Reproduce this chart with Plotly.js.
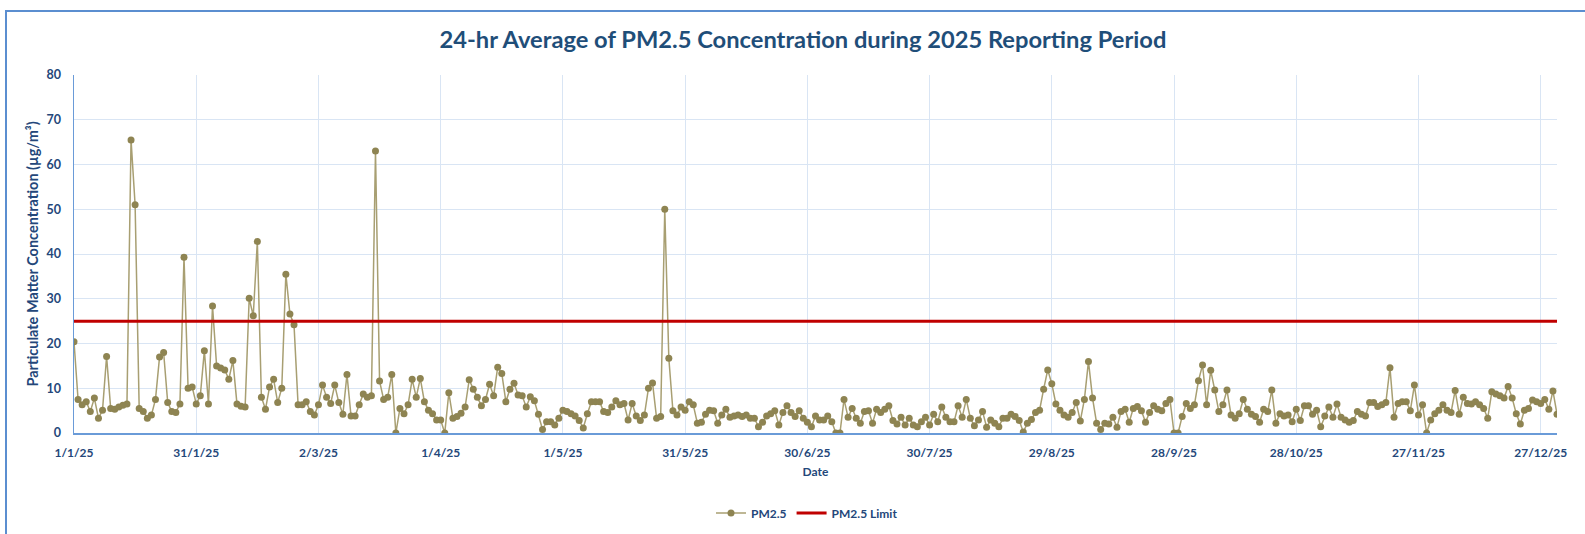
<!DOCTYPE html>
<html>
<head>
<meta charset="utf-8">
<script src="https://cdn.plot.ly/plotly-3.0.1.min.js"></script>
<style>
  html, body { margin: 0; padding: 0; background: #ffffff; width: 1585px; height: 534px; overflow: hidden; }
  #frame { position: absolute; left: 5px; top: 10px; width: 1620px; height: 600px; border-left: 2px solid #5B8ED0; border-top: 2px solid #5B8ED0; box-sizing: border-box; }
  #chart { position: absolute; left: 0; top: 0; width: 1585px; height: 534px; }
</style>
</head>
<body>
<div id="frame"></div>
<div id="chart"></div>
<script>
// ---- Data ----
const startDate = '2025-01-01';
const pm25Values = [
  20.4, 7.5, 6.3, 7.0, 4.8, 7.8, 3.3, 5.1, 17.1, 5.5,
  5.3, 5.8, 6.2, 6.5, 65.5, 51.0, 5.5, 4.8, 3.3, 4.0,
  7.5, 17.0, 18.0, 6.8, 4.8, 4.6, 6.5, 39.3, 10.0, 10.3,
  6.5, 8.3, 18.4, 6.5, 28.4, 15.0, 14.5, 14.1, 12.0, 16.2,
  6.5, 6.0, 5.8, 30.1, 26.2, 42.8, 8.0, 5.3, 10.3, 12.0,
  6.8, 10.0, 35.5, 26.6, 24.2, 6.3, 6.3, 7.0, 4.8, 4.0,
  6.3, 10.7, 8.0, 6.6, 10.7, 6.8, 4.2, 13.1, 3.8, 3.8,
  6.3, 8.7, 8.0, 8.3, 63.0, 11.6, 7.5, 8.0, 13.1, 0.0,
  5.5, 4.3, 6.3, 12.0, 8.0, 12.2, 7.0, 5.1, 4.3, 2.9,
  2.9, 0.0, 9.0, 3.3, 3.7, 4.4, 5.8, 11.9, 9.8, 8.0,
  6.1, 7.5, 10.9, 8.3, 14.7, 13.3, 7.0, 9.8, 11.1, 8.5,
  8.3, 5.8, 8.1, 7.2, 4.2, 0.8, 2.5, 2.5, 1.8, 3.3,
  5.1, 4.8, 4.3, 3.8, 2.8, 1.1, 4.3, 7.0, 7.0, 7.0,
  4.8, 4.6, 5.8, 7.2, 6.3, 6.6, 2.9, 6.6, 3.8, 2.8,
  4.0, 10.0, 11.2, 3.3, 3.7, 50.0, 16.7, 5.0, 4.0, 5.8,
  5.1, 7.0, 6.3, 2.2, 2.4, 4.2, 5.1, 5.0, 2.2, 4.0,
  5.3, 3.5, 3.8, 4.0, 3.7, 4.0, 3.3, 3.3, 1.4, 2.4,
  3.8, 4.3, 5.0, 1.8, 4.6, 6.1, 4.6, 3.7, 5.0, 3.3,
  2.4, 1.4, 3.8, 2.9, 2.9, 3.8, 2.5, 0.0, 0.0, 7.5,
  3.5, 5.5, 3.3, 2.2, 4.8, 5.0, 2.2, 5.3, 4.6, 5.3,
  6.1, 2.8, 2.0, 3.5, 1.8, 3.3, 1.8, 1.4, 2.5, 3.5,
  1.8, 4.2, 2.5, 5.8, 3.5, 2.5, 2.5, 6.1, 3.5, 7.5,
  3.3, 1.6, 2.9, 4.8, 1.3, 2.9, 2.2, 1.4, 3.3, 3.3,
  4.2, 3.7, 2.8, 0.2, 2.2, 3.0, 4.6, 5.1, 9.8, 14.1,
  11.0, 6.5, 5.1, 4.0, 3.5, 4.6, 6.8, 2.7, 7.5, 16.0,
  7.8, 2.2, 0.8, 2.2, 2.0, 3.5, 1.3, 4.8, 5.3, 2.4,
  5.5, 5.9, 5.0, 2.4, 4.6, 6.1, 5.3, 5.0, 6.6, 7.5,
  0.0, 0.0, 3.7, 6.6, 5.5, 6.3, 11.7, 15.2, 6.3, 14.0,
  9.6, 4.8, 6.3, 9.6, 4.0, 3.3, 4.3, 7.5, 5.3, 4.2,
  3.7, 2.4, 5.3, 4.8, 9.6, 2.2, 4.3, 3.8, 4.0, 2.5,
  5.3, 2.8, 6.1, 6.1, 4.2, 5.1, 1.4, 3.8, 5.8, 3.5,
  6.5, 3.5, 2.9, 2.4, 2.8, 4.8, 4.2, 3.8, 6.8, 6.8,
  5.9, 6.3, 6.8, 14.6, 3.5, 6.6, 7.0, 7.0, 5.0, 10.7,
  4.0, 6.3, 0.0, 2.9, 4.3, 5.1, 6.3, 5.1, 4.6, 9.5,
  4.2, 8.0, 6.6, 6.5, 7.0, 6.3, 5.5, 3.3, 9.2, 8.7,
  8.3, 7.8, 10.4, 7.8, 4.3, 2.0, 5.1, 5.5, 7.4, 7.0,
  6.6, 7.5, 5.3, 9.4, 4.2
];
const limitValue = 25;
const limitDates = ['2025-01-01', '2025-12-31'];
const tickDates = ['2025-01-01','2025-01-31','2025-03-02','2025-04-01','2025-05-01','2025-05-31','2025-06-30','2025-07-30','2025-08-29','2025-09-28','2025-10-28','2025-11-27','2025-12-27'];
const tickLabels = ['1/1/25','31/1/25','2/3/25','1/4/25','1/5/25','31/5/25','30/6/25','30/7/25','29/8/25','28/9/25','28/10/25','27/11/25','27/12/25'];
const yTicks = [0,10,20,30,40,50,60,70,80];

// daily dates
function isoDay(i) {
  const d = new Date(Date.UTC(2025, 0, 1) + i * 86400000);
  return d.toISOString().slice(0, 10);
}
const dates = pm25Values.map((_, i) => isoDay(i));

const txt = '#24477A';
const fontFam = 'Lato, "Open Sans", sans-serif';

const traces = [
  {
    x: dates, y: pm25Values, name: 'PM2.5', type: 'scatter', mode: 'lines+markers',
    line: { color: '#A89F72', width: 1.5 },
    marker: { color: '#8E8452', size: 7 }
  },
  {
    x: limitDates, y: limitDates.map(() => limitValue), name: 'PM2.5 Limit', type: 'scatter', mode: 'lines',
    line: { color: '#C00000', width: 3 }
  }
];

const layout = {
  width: 1585, height: 534,
  paper_bgcolor: 'rgba(0,0,0,0)', plot_bgcolor: '#ffffff',
  margin: { l: 74, r: 28, t: 75, b: 101 },
  font: { family: fontFam, color: txt },
  title: {
    text: '24-hr Average of PM2.5 Concentration during 2025 Reporting Period',
    font: { family: fontFam, size: 23.7, weight: 'bold', color: '#1F4E79' },
    xref: 'container', x: 0.5066, xanchor: 'center',
    yref: 'container', y: 1 - 40 / 534, yanchor: 'middle'
  },
  xaxis: {
    type: 'date', range: ['2025-01-01', '2025-12-31'],
    tickmode: 'array', tickvals: tickDates, ticktext: tickLabels,
    tickfont: { family: fontFam, size: 12, weight: 'bold', color: txt },
    showgrid: true, gridcolor: '#D9E5F4', gridwidth: 1,
    showline: true, linecolor: '#6A9BD8', linewidth: 1.5,
    zeroline: false, ticks: '', ticklabelstandoff: 8,
    title: { text: 'Date', font: { family: fontFam, size: 12, weight: 'bold', color: txt }, standoff: 8 }
  },
  yaxis: {
    range: [0, 80], tickmode: 'array', tickvals: yTicks,
    tickfont: { family: fontFam, size: 12.5, weight: 'bold', color: txt },
    showgrid: true, gridcolor: '#D9E5F4', gridwidth: 1,
    showline: true, linecolor: '#6A9BD8', linewidth: 1.5,
    zeroline: false, ticks: '', ticklabelstandoff: 9,
    title: { text: 'Particulate Matter Concentration (µg/m³)', font: { family: fontFam, size: 14.5, weight: 'bold', color: txt }, standoff: 4 }
  },
  showlegend: true,
  legend: {
    orientation: 'h', xref: 'container', x: 807 / 1585, xanchor: 'center',
    yref: 'container', y: 1 - 513 / 534, yanchor: 'middle',
    font: { family: fontFam, size: 12, weight: 'bold', color: txt },
    bgcolor: 'rgba(0,0,0,0)'
  }
};

Plotly.newPlot('chart', traces, layout, { displayModeBar: false, staticPlot: true });
</script>
</body>
</html>
